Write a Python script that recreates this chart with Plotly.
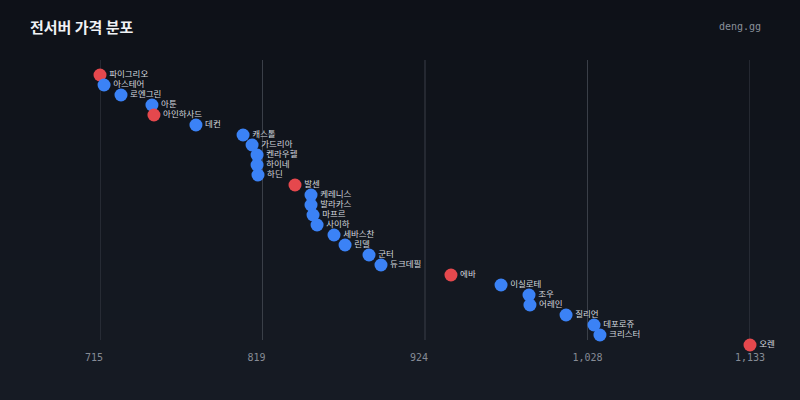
import plotly.graph_objects as go

names = ["파이그리오", "아스테어", "로엔그린", "아툰", "아인하사드", "데컨", "캐스톨", "가드리아",
         "켄라우헬", "하이네", "하딘", "발센", "케레니스", "발라카스", "마프르", "사이하",
         "세바스찬", "린델", "군터", "듀크데필", "에바", "이실로테", "조우", "어레인",
         "질리언", "데포로쥬", "크리스터", "오렌"]
prices = [715, 717.6, 728.5, 748.4, 749.7, 776.7, 807, 812.8,
          816, 816, 816.6, 840.4, 850.7, 850.7, 852, 854.6,
          865.5, 872.6, 888, 895.7, 940.7, 972.9, 990.9, 991.5,
          1014.7, 1032.7, 1036.5, 1133]
highlight = [1, 0, 0, 0, 1, 0, 0, 0,
             0, 0, 0, 1, 0, 0, 0, 0,
             0, 0, 0, 0, 1, 0, 0, 0,
             0, 0, 0, 1]
tick_vals = [715, 819.5, 924, 1028.5, 1133]
tick_text = ["715", "819", "924", "1,028", "1,133"]

RED = "#e5484d"
BLUE = "#3b82f6"
colors = [RED if h else BLUE for h in highlight]
rank = list(range(len(names)))

PLOT_H = 290  # pixels of plot area (top 60, bottom 350)

fig = go.Figure()

# background gradient bands
n_bands = 40
top = (14, 17, 24)
bot = (22, 27, 36)
shapes = []
for i in range(n_bands):
    t = i / (n_bands - 1)
    c = tuple(round(top[k] + (bot[k] - top[k]) * t) for k in range(3))
    y_hi = 350 / PLOT_H - i * (400 / PLOT_H) / n_bands
    y_lo = y_hi - (400 / PLOT_H) / n_bands - 0.002
    shapes.append(dict(type="rect", xref="paper", yref="paper",
                       x0=-100 / 650 - 0.01, x1=750 / 650 + 0.01,
                       y0=y_lo, y1=y_hi, line=dict(width=0),
                       fillcolor="rgb(%d,%d,%d)" % c, layer="below"))
# vertical gridlines
for tv in tick_vals:
    shapes.append(dict(type="line", xref="x", yref="y", x0=tv, x1=tv,
                       y0=-1.5, y1=26.5, line=dict(color="#3a3f48", width=1),
                       layer="below"))

fig.add_trace(go.Scatter(
    x=prices, y=rank, mode="markers+text",
    text=names, textposition="middle right",
    textfont=dict(family="Noto Sans CJK KR", size=8.5, color="#d4d8df"),
    marker=dict(size=13, color=colors, line=dict(width=0)),
    cliponaxis=False, hoverinfo="skip", showlegend=False,
))

fig.update_layout(
    width=800, height=400,
    margin=dict(l=100, r=50, t=60, b=50),
    paper_bgcolor="#12161e", plot_bgcolor="rgba(0,0,0,0)",
    shapes=shapes,
    title=dict(text="<b>전서버 가격 분포</b>", xref="container", yref="container",
               x=30 / 800, xanchor="left", y=1 - 28 / 400, yanchor="middle",
               font=dict(family="Noto Sans CJK KR", size=15, color="#f0f2f5")),
    xaxis=dict(range=[715, 1133], tickvals=tick_vals,
               ticktext=[t + "\u00a0" * (5 - len(t)) for t in tick_text],
               showgrid=False, zeroline=False, showline=False, ticks="",
               tickfont=dict(family="DejaVu Sans Mono", size=10, color="#858b95"),
               ticklabelstandoff=0),
    yaxis=dict(range=[27.5, -1.5], visible=False, showgrid=False, zeroline=False),
    annotations=[dict(text="deng.gg", xref="paper", yref="paper",
                      x=(763 - 100) / 650, y=(350 - 26) / PLOT_H,
                      xanchor="right", yanchor="middle", showarrow=False,
                      font=dict(family="DejaVu Sans Mono", size=10, color="#8a9099"))],
)

fig.write_html("out.html")
